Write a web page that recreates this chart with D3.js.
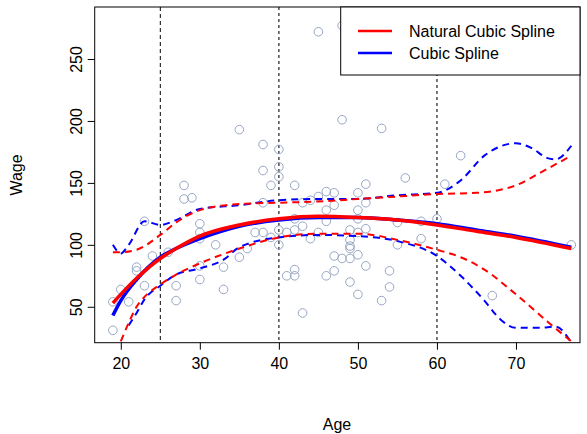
<!DOCTYPE html><html><head><script src="https://cdn.jsdelivr.net/npm/d3@7"></script>
<style>body{margin:0;background:#fff}text{font-family:"Liberation Sans",Arial,sans-serif}</style></head><body><svg id="c" width="587" height="434"></svg>
<script>
const ages=[19,19,20,21,22,22,23,23,24,26,27,27,28,28,29,30,30,30,30,30,32,33,33,35,35,36,37,38,38,38,38,39,39,40,40,40,40,40,41,41,42,42,42,42,42,43,45,48,51,48,53,56,63,61,60,77,67,46,47,50,51,45,44,43,47,46,50,51,46,50,55,58,43,45,49,50,51,44,49,49,49,55,58,47,48,49,50,51,46,47,54,49,54,50,53];
const wages=[31,54,64,54,79,82,119,67,91,94,67,55,148,137,138,117,110,105,83,72,100,82,64,193,90,97,110,181,160,134,110,148,106,177,163,155,112,100,110,75,148,121,112,80,75,45,272,277,282,201,194,154,172,149,121,100,59,143,142,142,149,139,136,134,132,128,128,134,119,121,118,119,115,110,112,110,113,105,104,99,97,100,105,91,89,89,92,83,75,79,79,70,66,60,55];
const fitAge=[19,20,22,25,27,30,35,40,45,50,55,60,65,70,77];
const nsFit=[53,60,73,89,97,107,116,121,123,122,120,116,111,106,97];
const csFit=[43,55,72,90,97,105,115,120,122,122,120,117,112,107,98];
const csUpA=[19,20,21,23,25,27,30,35,40,45,50,55,60,63,66,70,72,74,75,77];
const csUp=[100,93,100,119,116,120,129,132,136,137,137,140,142,152,172,182,178,170,169,180];
const nsUpA=[19,20,22,25,27,30,35,40,45,50,55,60,65,70,73,77];
const nsUp=[94,94,96,108,118,128,133,134,135,137,139,141,142,148,158,172];
const nsLoA=[20,21,22,23,25,27,30,35,40,45,50,55,60,63,66,70,74,77];
const nsLo=[22,37,50,58,68,76,85,97,106,109,109,104,96,90,80,60,38,22];
const csLoA=[21,22,23,25,27,30,33,35,40,45,50,55,60,63,66,68,70,73,75,77];
const csLo=[35,45,56,67,76,81,88,98,106,108,107,103,91,75,55,40,33,33,34,21];
const knots=[25,40,60];
const xTicks=[20,30,40,50,60,70], yTicks=[50,100,150,200,250];

const svg=d3.select("#c");
const L=94.7,R=580,T=7,B=342.7;
const x=d3.scaleLinear().domain([16.7,78.1]).range([L,R]);
const y=d3.scaleLinear().domain([21,292]).range([B,T]);
svg.append("clipPath").attr("id","cp").append("rect").attr("x",L).attr("y",T).attr("width",R-L).attr("height",B-T);
const g=svg.append("g").attr("clip-path","url(#cp)");
knots.forEach((k,i)=>g.append("line").attr("x1",x(k)).attr("x2",x(k)).attr("y1",T).attr("y2",B)
  .attr("stroke",i==0?"#000":"#555").attr("stroke-width",i==0?1:1.6).attr("stroke-dasharray",i==0?"4,3":"3,3"));
g.selectAll("circle").data(ages).join("circle").attr("cx",d=>x(d)).attr("cy",(d,i)=>y(wages[i])).attr("r",4.3)
  .attr("fill","none").attr("stroke","#97a6c4").attr("stroke-width",1);
const line=d3.line().x(d=>x(d[0])).y(d=>y(d[1])).curve(d3.curveMonotoneX);
function draw(a,v,col,w,dash){g.append("path").attr("d",line(a.map((d,i)=>[d,v[i]]))).attr("fill","none")
  .attr("stroke",col).attr("stroke-width",w).attr("stroke-dasharray",dash);}
draw(csUpA,csUp,"#0000ff",2,"7,5");draw(csLoA,csLo,"#0000ff",2,"7,5");
draw(nsUpA,nsUp,"#ff0000",2,"7,5");draw(nsLoA,nsLo,"#ff0000",2,"7,5");
draw(fitAge,csFit,"#0000ff",3.5,null);draw(fitAge,nsFit,"#ff0000",3.5,null);
svg.append("rect").attr("x",L).attr("y",T).attr("width",R-L).attr("height",B-T).attr("fill","none").attr("stroke","#000");
const xa=svg.append("g").attr("transform",`translate(0,${B})`).call(d3.axisBottom(x).tickValues(xTicks).tickSize(7).tickPadding(8));
const ya=svg.append("g").attr("transform",`translate(${L},0)`).call(d3.axisLeft(y).tickValues(yTicks).tickSize(7).tickPadding(6));
[xa,ya].forEach(a=>{a.select(".domain").remove();a.selectAll("text").attr("font-size",16).attr("fill","#000");});
ya.selectAll(".tick text").attr("transform","rotate(-90)").attr("text-anchor","middle").attr("x",0).attr("dy",0).attr("y",-13);
svg.append("text").attr("x",337).attr("y",430).attr("text-anchor","middle").attr("font-size",16).text("Age");
svg.append("text").attr("transform","translate(22,175) rotate(-90)").attr("text-anchor","middle").attr("font-size",16).text("Wage");
const lg=svg.append("g");
lg.append("rect").attr("x",340.7).attr("y",T).attr("width",R-340.7).attr("height",68).attr("fill","#fff").attr("stroke","#000");
[["Natural Cubic Spline","#ff0000",31],["Cubic Spline","#0000ff",53]].forEach(([t,c,yy])=>{
  lg.append("line").attr("x1",358).attr("x2",392).attr("y1",yy).attr("y2",yy).attr("stroke",c).attr("stroke-width",2.5);
  lg.append("text").attr("x",409).attr("y",yy+6).attr("font-size",16).text(t);});
</script></body></html>
